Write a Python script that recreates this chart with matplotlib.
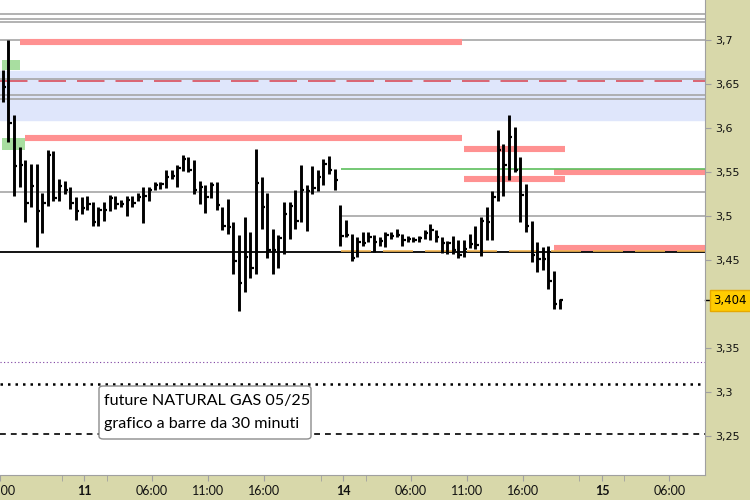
import numpy as np
import matplotlib
matplotlib.use("Agg")
import matplotlib.pyplot as plt
from matplotlib.patches import Rectangle, FancyBboxPatch
import matplotlib.transforms as mtransforms

# ---------------- data (30-minute bars, NATURAL GAS 05/25) ----------------
highs = [3.666, 3.700, 3.615, 3.578, 3.564, 3.559, 3.559, 3.526, 3.575, 3.574,
         3.542, 3.540, 3.533, 3.522, 3.522, 3.523, 3.516, 3.510, 3.516, 3.524,
         3.523, 3.518, 3.523, 3.523, 3.526, 3.533, 3.533, 3.539, 3.539, 3.552,
         3.552, 3.558, 3.569, 3.567, 3.564, 3.540, 3.535, 3.539, 3.539, 3.510,
         3.519, 3.493, 3.478, 3.499, 3.482, 3.576, 3.544, 3.526, 3.485, 3.478,
         3.516, 3.516, 3.530, 3.558, 3.535, 3.557, 3.552, 3.565, 3.568, 3.553,
         3.513, 3.495, 3.480, 3.476, 3.482, 3.482, 3.478, 3.476, 3.482, 3.482,
         3.485, 3.480, 3.477, 3.476, 3.477, 3.484, 3.491, 3.484, 3.476, 3.472,
         3.477, 3.473, 3.473, 3.480, 3.489, 3.499, 3.510, 3.528, 3.598, 3.582,
         3.615, 3.601, 3.567, 3.536, 3.494, 3.470, 3.465, 3.466, 3.438, 3.406]
lows = [3.630, 3.584, 3.523, 3.533, 3.493, 3.510, 3.465, 3.481, 3.511, 3.517,
        3.517, 3.525, 3.508, 3.495, 3.502, 3.507, 3.489, 3.489, 3.494, 3.506,
        3.508, 3.510, 3.500, 3.510, 3.517, 3.492, 3.517, 3.530, 3.531, 3.532,
        3.542, 3.533, 3.551, 3.550, 3.525, 3.514, 3.503, 3.520, 3.507, 3.484,
        3.480, 3.434, 3.392, 3.414, 3.430, 3.434, 3.485, 3.452, 3.434, 3.441,
        3.457, 3.474, 3.485, 3.493, 3.483, 3.525, 3.528, 3.535, 3.548, 3.530,
        3.466, 3.476, 3.449, 3.453, 3.466, 3.470, 3.459, 3.466, 3.465, 3.474,
        3.476, 3.466, 3.470, 3.470, 3.470, 3.474, 3.473, 3.470, 3.458, 3.457,
        3.457, 3.452, 3.453, 3.464, 3.463, 3.455, 3.473, 3.473, 3.517, 3.523,
        3.541, 3.550, 3.493, 3.482, 3.448, 3.436, 3.439, 3.417, 3.394, 3.394]
closes = [3.647, 3.606, 3.557, 3.558, 3.515, 3.534, 3.506, 3.515, 3.569, 3.520,
          3.534, 3.530, 3.515, 3.506, 3.509, 3.514, 3.493, 3.507, 3.507, 3.520,
          3.514, 3.514, 3.518, 3.515, 3.522, 3.523, 3.530, 3.535, 3.536, 3.544,
          3.545, 3.555, 3.565, 3.552, 3.530, 3.533, 3.522, 3.535, 3.513, 3.489,
          3.487, 3.449, 3.424, 3.453, 3.441, 3.537, 3.510, 3.461, 3.461, 3.475,
          3.502, 3.511, 3.494, 3.530, 3.528, 3.532, 3.544, 3.559, 3.552, 3.541,
          3.477, 3.478, 3.452, 3.470, 3.469, 3.476, 3.470, 3.472, 3.478, 3.477,
          3.478, 3.473, 3.474, 3.473, 3.475, 3.481, 3.484, 3.476, 3.469, 3.469,
          3.461, 3.456, 3.463, 3.468, 3.467, 3.494, 3.493, 3.522, 3.575, 3.558,
          3.590, 3.552, 3.524, 3.489, 3.456, 3.451, 3.451, 3.426, 3.400, 3.404]

last_price = 3.404

# x tick labels (bar-index positions) and labels
xtick_pos = [-0.5, 14.5, 26.5, 36.5, 46.5, 60.5, 72.5, 82.5, 92.5, 106.5, 118.5]
xtick_labels = ["16:00", "11", "06:00", "11:00", "16:00", "14", "06:00",
                "11:00", "16:00", "15", "06:00"]
xtick_bold = [False, True, False, False, False, True, False, False, False, True, False]
xminor_pos = [10.5, 18.5, 56.5, 64.5, 102.5, 110.5]

ytick_vals = [3.25, 3.3, 3.35, 3.45, 3.5, 3.55, 3.6, 3.65, 3.7]

# horizontal levels
gray_full = [3.7292, 3.7235, 3.7201, 3.7003, 3.6553, 3.6372, 3.6326, 3.5273]
gray_partial = [3.5]
black_level = 3.4588
orange_level = 3.4606
green_level = 3.5531
purple_dotted = 3.3344
black_dotted = 3.3088
black_dashed = 3.2519
red_dashed = 3.6534
blue_zone = (3.6091, 3.6648)
pink_levels = [3.6972, 3.5892, 3.5761, 3.5426, 3.5500, 3.4642]
green_zones = [(3.666, 3.677), (3.575, 3.589)]

title_lines = ["future NATURAL GAS 05/25", "grafico a barre da 30 minuti"]

# ---------------- figure ----------------
KHAKI = "#d8d8aa"
fig = plt.figure(figsize=(7.5, 5), dpi=100, facecolor=KHAKI)
ax = fig.add_axes([0, 25 / 500, 705 / 750, 475 / 500])
ax.set_facecolor("white")

XMIN, XMAX = -0.177, 124.82
YMIN, YMAX = 3.20568, 3.74545
ax.set_xlim(XMIN, XMAX)
ax.set_ylim(YMIN, YMAX)

idx = np.arange(len(highs))

# blue zone
ax.axhspan(blue_zone[0], blue_zone[1], color="#dfe6fb", zorder=0)

# green zones
green_right = [3.0, 3.9]
for (lo, hi), r in zip(green_zones, green_right):
    ax.add_patch(Rectangle((XMIN, lo), r - XMIN, hi - lo,
                           color="#a8dea0", zorder=1, lw=0))

# gray lines
for g in gray_full:
    ax.axhline(g, color="#a6a6a6", lw=1.2, zorder=1)
for g in gray_partial:
    ax.hlines(g, 60.1, XMAX, color="#a6a6a6", lw=1.2, zorder=1)

# red dashed
ax.axhline(red_dashed, color="#d9414e", lw=1.1, dashes=(18, 7.2), zorder=1)

# pink levels (thick bars)
pink_ext = [(3.0, 81.7), (3.9, 81.7), (81.9, 100.0), (81.9, 100.0),
            (97.9, XMAX), (97.9, XMAX)]
for lvl, (a, b) in zip(pink_levels, pink_ext):
    ax.hlines(lvl, a, b, color="#ff9191", lw=4.4, zorder=2)

# green level
ax.hlines(green_level, 60.1, XMAX, color="#5cbf5c", lw=1.2, zorder=2)

# black level + orange dashed just above it
ax.axhline(black_level, color="black", lw=1.3, zorder=2)
ax.hlines(orange_level, 60.1, XMAX, color="#f2b552", lw=1.2,
          linestyles=(0, (18, 7.2)), zorder=3)

# lower dotted / dashed levels
ax.axhline(purple_dotted, color="#7b3fa0", lw=0.8, linestyle=(0, (1, 2.2)), zorder=1)
ax.axhline(black_dotted, color="black", lw=1.8, linestyle=(0, (1, 2.0)), zorder=1)
ax.axhline(black_dashed, color="black", lw=1.2, linestyle=(0, (3.5, 3.0)), zorder=1)

# bars (high-low with close tick)
ax.vlines(idx, lows, highs, color="black", lw=2.1, zorder=5)
ax.hlines(closes, idx, idx + 0.6, color="black", lw=1.6, zorder=5)

# spines / ticks
for s in ["top", "left"]:
    ax.spines[s].set_visible(False)
ax.spines["right"].set_color("#a0a0a0")
ax.spines["bottom"].set_color("#a0a0a0")

ax.yaxis.tick_right()
ax.set_yticks(ytick_vals)
ax.set_yticklabels([("%g" % v).replace(".", ",") for v in ytick_vals],
                   fontsize=8, family="DejaVu Sans")
ax.tick_params(axis="y", length=4, color="#a0a0a0", pad=3, labelcolor="#111111")

ax.set_xticks(xtick_pos)
ax.set_xticks(xminor_pos, minor=True)
ax.set_xticklabels(xtick_labels, fontsize=9, family=["Lato", "DejaVu Sans"])
for lab, b in zip(ax.get_xticklabels(), xtick_bold):
    if b:
        lab.set_fontweight("bold")
ax.tick_params(axis="x", which="both", length=4, color="#a0a0a0", pad=3,
               labelcolor="#111111")

# last-price marker
trans = mtransforms.blended_transform_factory(ax.transAxes, ax.transData)
ax.text(1.012, last_price, ("%.3f" % last_price).replace(".", ","),
        transform=trans, ha="left", va="center", fontsize=8.5,
        family="DejaVu Sans", color="black", clip_on=False, zorder=10,
        bbox=dict(boxstyle="square,pad=0.32", fc="#ffcc00", ec="#e6a800", lw=1))
ax.plot([1.0, 1.008], [last_price, last_price], transform=trans,
        color="black", lw=1, clip_on=False)

# info box
box = FancyBboxPatch((99 / 705, 36 / 475), 212 / 705, 53 / 475,
                     boxstyle="round,pad=0,rounding_size=0.006",
                     transform=ax.transAxes, fc="white", ec="#8c8c8c",
                     lw=1, zorder=8)
ax.add_patch(box)
for line, ypx in zip(title_lines, [401, 424]):
    ax.text(104 / 705, (475 - ypx) / 475, line, transform=ax.transAxes,
            ha="left", va="center", fontsize=11.6, family=["Lato", "DejaVu Sans"],
            color="black", zorder=9)

fig.savefig("out.png", dpi=100, facecolor=KHAKI)
